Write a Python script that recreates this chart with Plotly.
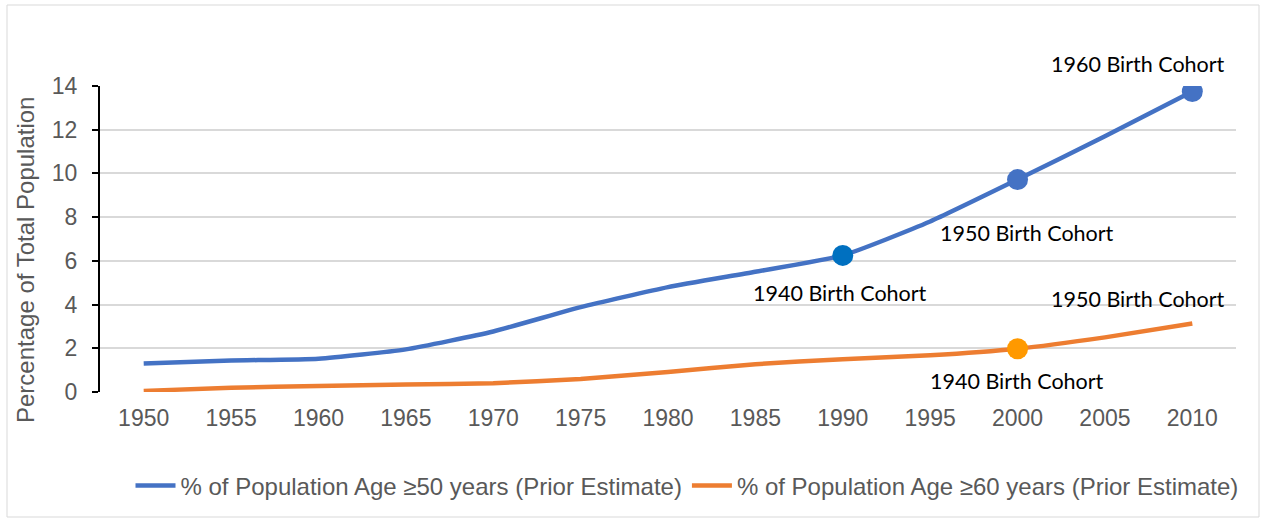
import plotly.graph_objects as go

years = [1950, 1955, 1960, 1965, 1970, 1975, 1980, 1985, 1990, 1995, 2000, 2005, 2010]
age50 = [1.3, 1.44, 1.52, 1.95, 2.77, 3.88, 4.8, 5.5, 6.25, 7.8, 9.72, 11.7, 13.75]
age60 = [0.05, 0.2, 0.27, 0.34, 0.4, 0.6, 0.92, 1.27, 1.5, 1.68, 1.98, 2.5, 3.13]

name50 = "% of Population Age ≥50 years (Prior Estimate)"
name60 = "% of Population Age ≥60 years (Prior Estimate)"
y_title = "Percentage of Total Population"

cohort50_years = [1990, 2000, 2010]
cohort50_labels = ["1940 Birth Cohort", "1950 Birth Cohort", "1960 Birth Cohort"]
cohort60_years = [2000, 2010]
cohort60_labels = ["1940 Birth Cohort", "1950 Birth Cohort"]

BLUE = "#4472C4"
ORANGE = "#ED7D31"

fig = go.Figure()
fig.add_trace(go.Scatter(x=years, y=age50, mode="lines", name=name50,
                         line=dict(color=BLUE, width=4.5, shape="spline", smoothing=0.5)))
fig.add_trace(go.Scatter(x=years, y=age60, mode="lines", name=name60,
                         line=dict(color=ORANGE, width=4.5, shape="spline", smoothing=0.5)))

v50 = [age50[years.index(y)] for y in cohort50_years]
v60 = [age60[years.index(y)] for y in cohort60_years]
fig.add_trace(go.Scatter(x=cohort50_years, y=v50, mode="markers", showlegend=False,
                         marker=dict(size=21, color=["#0070C0", BLUE, BLUE])))
fig.add_trace(go.Scatter(x=cohort60_years[:1], y=v60[:1], mode="markers", showlegend=False,
                         marker=dict(size=21, color="#FF9900")))

label_font = dict(family="Lato", size=21.5, color="#000000")
offs50 = [(-3, -38), (9, -53), (-54, 27)]
offs60 = [(-1, -32), (-54, 25)]
for yr, v, t, (dx, dy) in zip(cohort50_years, v50, cohort50_labels, offs50):
    fig.add_annotation(x=yr, y=v, text=t, showarrow=False, xshift=dx, yshift=dy, font=label_font)
for yr, v, t, (dx, dy) in zip(cohort60_years, v60, cohort60_labels, offs60):
    fig.add_annotation(x=yr, y=v, text=t, showarrow=False, xshift=dx, yshift=dy, font=label_font)

W, H = 1265, 522
L, R, T, B = 100, 29, 86, 130
pw, ph = W - L - R, H - T - B
def px(x):
    return (x - L) / pw
def py(y):
    return (H - B - y) / ph

fig.add_annotation(xref="paper", yref="paper", x=px(25), y=py(260), text=y_title,
                   textangle=-90, showarrow=False, xanchor="center", yanchor="middle",
                   font=dict(family="Arial", size=24, color="#595959"))

fig.add_shape(type="rect", xref="paper", yref="paper",
              x0=px(7), x1=px(1259), y0=py(517), y1=py(5),
              line=dict(color="#d9d9d9", width=1), fillcolor="rgba(0,0,0,0)", layer="below")

tick_font = dict(family="Arial", size=23, color="#595959")
fig.update_layout(
    width=W, height=H,
    margin=dict(l=L, r=R, t=T, b=B, autoexpand=False),
    paper_bgcolor="white", plot_bgcolor="white",
    xaxis=dict(range=[1947.5, 2012.5], tickvals=years, showgrid=False, showline=False, ticks="",
               tickfont=tick_font, ticklabelstandoff=10, zeroline=False),
    yaxis=dict(range=[0, 14], dtick=2, showgrid=True, gridcolor="#d9d9d9", gridwidth=1.5,
               showline=True, linecolor="black", linewidth=2, ticks="outside",
               ticklen=6, tickwidth=2, tickcolor="black", zeroline=False,
               tickfont=tick_font, ticklabelstandoff=10),
    legend=dict(orientation="h", x=px(687), xanchor="center",
                y=py(486), yanchor="middle",
                font=dict(family="Arial", size=24, color="#595959"),
                itemwidth=40, tracegroupgap=0, bgcolor="rgba(0,0,0,0)"),
    showlegend=True,
)

fig.write_html("out.html", config={"displayModeBar": False},
               post_script="document.body.style.margin='0';")
